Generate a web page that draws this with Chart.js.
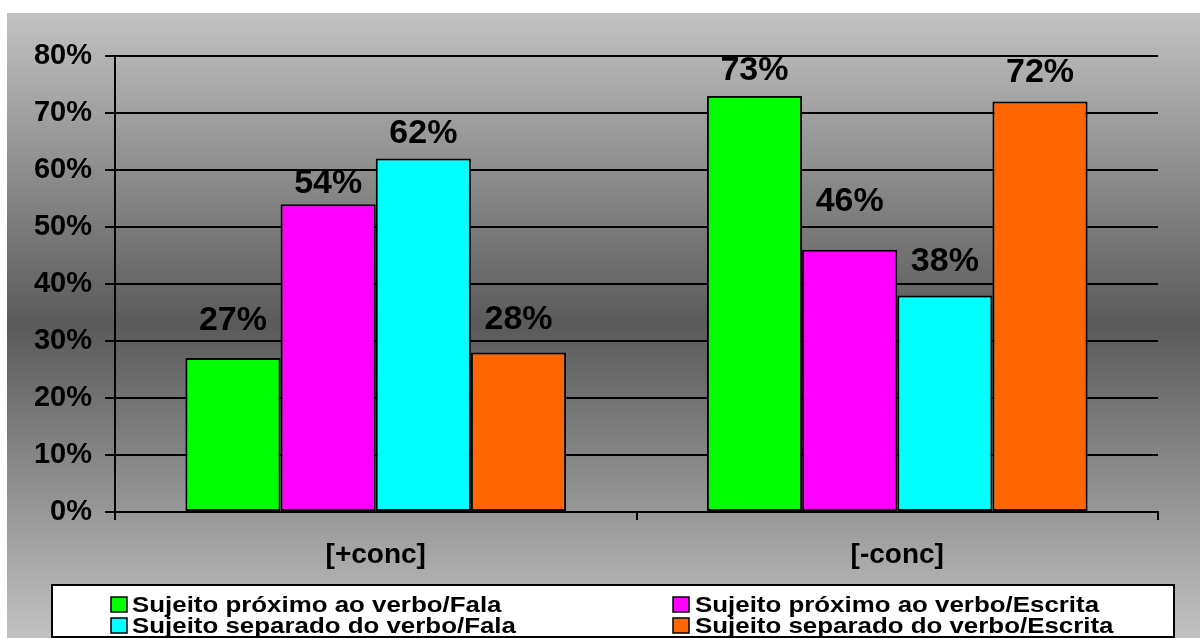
<!DOCTYPE html>
<html>
<head>
<meta charset="utf-8">
<script src="https://cdn.jsdelivr.net/npm/chart.js@4"></script>
<style>
  html, body { margin: 0; padding: 0; background: #fff; }
  canvas { display: block; }
</style>
</head>
<body>
<canvas id="chart" width="1200" height="638"></canvas>
<script>
const categories = ['[+conc]', '[-conc]'];
const seriesNames = [
  'Sujeito próximo ao verbo/Fala',
  'Sujeito próximo ao verbo/Escrita',
  'Sujeito separado do verbo/Fala',
  'Sujeito separado do verbo/Escrita'
];
const proximoFala = [27, 73];
const proximoEscrita = [54, 46];
const separadoFala = [62, 38];
const separadoEscrita = [28, 72];
const yTicks = [0, 10, 20, 30, 40, 50, 60, 70, 80];

const colors = ['#00ff00', '#ff00ff', '#00ffff', '#ff6600'];
// how far each value label sits above its bar (px)
const labelLift = [[37, 25], [21, 48], [25, 34], [33, 29]];

const FONT = 'Arial, "Liberation Sans", sans-serif';

const background = {
  id: 'background',
  beforeDraw(chart) {
    const ctx = chart.ctx;
    const g = ctx.createLinearGradient(0, 13, 0, 638);
    g.addColorStop(0, '#c2c2c2');
    g.addColorStop(0.5, '#5a5a5a');
    g.addColorStop(1, '#c2c2c2');
    ctx.save();
    ctx.fillStyle = g;
    ctx.fillRect(7, 13, 1193, 625);
    ctx.restore();
  }
};

const valueLabels = {
  id: 'valueLabels',
  afterDatasetsDraw(chart) {
    const ctx = chart.ctx;
    ctx.save();
    ctx.font = 'bold 34px ' + FONT;
    ctx.fillStyle = '#000';
    ctx.textAlign = 'center';
    ctx.textBaseline = 'middle';
    chart.data.datasets.forEach((ds, di) => {
      chart.getDatasetMeta(di).data.forEach((bar, i) => {
        ctx.fillText(ds.data[i] + '%', bar.x, bar.y - labelLift[di][i]);
      });
    });
    ctx.restore();
  }
};

// two-column legend box along the bottom edge
const boxLegend = {
  id: 'boxLegend',
  afterDraw(chart) {
    const ctx = chart.ctx;
    const left = 52, top = 585, right = 1174, bottom = 637;
    const markX = [111, 673], textX = [132, 695], baseY = [612, 633];
    ctx.save();
    ctx.fillStyle = '#fff';
    ctx.fillRect(left, top, right - left, bottom - top);
    ctx.beginPath();
    ctx.rect(left, top, right - left, bottom - top - 1);
    ctx.clip();
    chart.data.datasets.forEach((ds, i) => {
      const col = i % 2, row = Math.floor(i / 2);
      ctx.fillStyle = ds.backgroundColor;
      ctx.fillRect(markX[col], baseY[row] - 15, 16, 15);
      ctx.lineWidth = 1.5;
      ctx.strokeStyle = '#000';
      ctx.strokeRect(markX[col], baseY[row] - 15, 16, 15);
      ctx.save();
      ctx.translate(textX[col], baseY[row]);
      ctx.scale(1.15, 1);
      ctx.font = 'bold 22.5px ' + FONT;
      ctx.fillStyle = '#000';
      ctx.textBaseline = 'alphabetic';
      ctx.fillText(ds.label, 0, 0);
      ctx.restore();
    });
    ctx.restore();
    ctx.save();
    ctx.lineWidth = 2;
    ctx.strokeStyle = '#000';
    ctx.strokeRect(left, top, right - left, bottom - top);
    ctx.restore();
  }
};

const values = [proximoFala, proximoEscrita, separadoFala, separadoEscrita];

new Chart(document.getElementById('chart'), {
  type: 'bar',
  data: {
    labels: categories,
    datasets: values.map((v, i) => ({
      label: seriesNames[i],
      data: v,
      backgroundColor: colors[i],
      borderColor: '#000',
      borderWidth: 2,
      borderSkipped: false,
      barPercentage: 1,
      categoryPercentage: 0.73
    }))
  },
  options: {
    responsive: false,
    devicePixelRatio: 1,
    animation: false,
    layout: { padding: { top: 56, right: 42, bottom: 0, left: 0 } },
    plugins: {
      legend: { display: false },
      tooltip: { enabled: false },
      title: { display: false }
    },
    scales: {
      x: {
        afterFit(scale) { scale.height = 126; },
        grid: {
          offset: true,
          drawOnChartArea: false,
          tickLength: 8,
          color: '#000',
          lineWidth: 2
        },
        border: { color: '#000', width: 2 },
        ticks: {
          color: '#000',
          padding: 18,
          font: { family: FONT, size: 28, weight: 'bold' }
        }
      },
      y: {
        min: 0,
        max: 80,
        afterFit(scale) { scale.width = 115; },
        afterBuildTicks(scale) { scale.ticks = yTicks.map(v => ({ value: v })); },
        grid: { color: '#000', lineWidth: 2, tickLength: 10 },
        border: { color: '#000', width: 2 },
        ticks: {
          color: '#000',
          padding: 13,
          font: { family: FONT, size: 29, weight: 'bold' },
          callback: v => v + '%'
        }
      }
    }
  },
  plugins: [background, valueLabels, boxLegend]
});
</script>
</body>
</html>
